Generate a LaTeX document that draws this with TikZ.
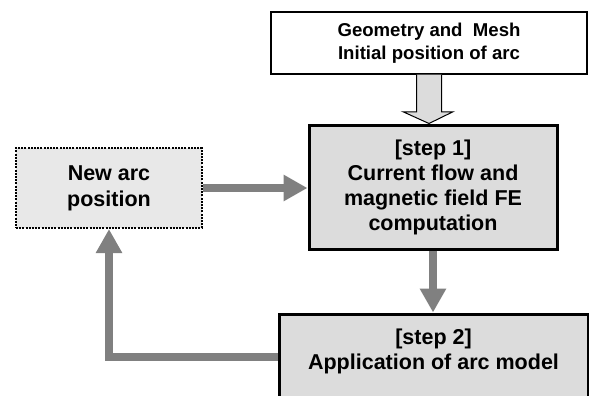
\documentclass[tikz,border=0pt]{standalone}
\usepackage{fontspec}
\setmainfont{Liberation Sans}
\usetikzlibrary{arrows.meta,calc}
\definecolor{boxgray}{HTML}{DCDCDC}
\definecolor{newgray}{HTML}{E8E8E8}
\definecolor{arrgray}{HTML}{808080}
\tikzset{
  basebox/.style={rectangle, inner sep=0pt, align=center, font=\bfseries},
  topbox/.style={basebox, draw=black, line width=1.5pt, fill=white,
    minimum width=316pt, minimum height=62pt,
    font=\fontsize{18.6}{23}\selectfont\bfseries},
  stepbox/.style={basebox, draw=black, line width=3pt, fill=boxgray,
    font=\fontsize{21.5}{25}\selectfont\bfseries},
  newbox/.style={basebox, draw=black, line width=2.2pt, fill=newgray,
    dash pattern=on 2pt off 1.2pt,
    minimum width=186pt, minimum height=80pt,
    font=\fontsize{21.5}{26}\selectfont\bfseries},
  txt/.style={align=center, inner sep=0pt, font=\fontsize{21.5}{25}\selectfont\bfseries},
  garrow/.style={draw=arrgray, line width=8pt,
    -{Triangle[length=24pt,width=25pt,fill=arrgray]}},
  hollow/.style={draw=black, line width=1pt, fill=boxgray, line join=miter}
}
\begin{document}
\begin{tikzpicture}[x=1pt,y=-1pt]
\useasboundingbox (0,0) rectangle (589,396);
\fill[white] (0,0) rectangle (589,396);

\node[topbox] (top) at (429,43) {Geometry and\ \ Mesh\\Initial position of arc};
\node[stepbox, minimum width=248pt, minimum height=124pt] (s1) at (433,187)
  {[step 1]\\Current flow and\\magnetic field FE\\computation};
\node[newbox] (new) at (109,188) {New arc\\position};
\node[stepbox, minimum width=309pt, minimum height=110pt] (s2) at (433.5,369) {};
\node[txt] (s2t) at ($(s2.north)+(0,39)$) {[step 2]\\Application of arc model};

% hollow arrow from top box to step 1
\draw[hollow]
  ($(top.south)+(-12.5,0)$) -- ($(top.south)+(-12.5,37)$) --
  ($(top.south)+(-26,37)$) -- (top.south |- s1.north) --
  ($(top.south)+(24,37)$) -- ($(top.south)+(12.5,37)$) --
  ($(top.south)+(12.5,0)$);

% gray arrows
\draw[garrow] (new.east) -- (new.east -| s1.west);
\draw[garrow] (s1.south) -- (s1.south |- s2.north);
\coordinate (loopstart) at ($(s2.north west)+(0,44)$);
\draw[garrow] (loopstart) -| (new.south);
\end{tikzpicture}
\end{document}
